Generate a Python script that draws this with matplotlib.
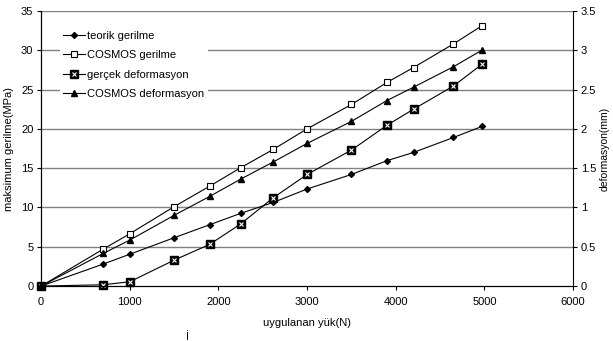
import matplotlib.pyplot as plt
from matplotlib.legend_handler import HandlerTuple

plt.rcParams['font.family'] = ['Liberation Sans', 'DejaVu Sans']
plt.rcParams['font.size'] = 8

# data
load = [0, 700, 1000, 1500, 1900, 2250, 2620, 3000, 3500, 3900, 4200, 4650, 4970]
teorik_gerilme = [0, 2.8, 4.05, 6.15, 7.8, 9.25, 10.65, 12.35, 14.2, 15.95, 17.0, 18.9, 20.3]
cosmos_gerilme = [0, 4.7, 6.65, 10.1, 12.7, 15.05, 17.4, 20.0, 23.1, 25.9, 27.8, 30.8, 33.1]
gercek_def = [0, 0.017, 0.055, 0.33, 0.53, 0.79, 1.125, 1.42, 1.73, 2.045, 2.25, 2.545, 2.82]
cosmos_def = [0, 0.415, 0.585, 0.9, 1.14, 1.36, 1.58, 1.815, 2.095, 2.36, 2.53, 2.79, 3.0]

fig = plt.figure(figsize=(6.13, 3.41), dpi=100)
ax = fig.add_axes([0.067, 0.161, 0.868, 0.807])
ax2 = ax.twinx()

ax.set_xlim(0, 6000)
ax.set_ylim(0, 35)
ax2.set_ylim(0, 3.5)
ax.set_xticks(range(0, 7000, 1000))
ax.set_yticks(range(0, 40, 5))
ax2.set_yticks([0, 0.5, 1, 1.5, 2, 2.5, 3, 3.5])
ax2.set_yticklabels(['0', '0.5', '1', '1.5', '2', '2.5', '3', '3.5'])

for y in range(5, 40, 5):
    ax.axhline(y, color='#808080', lw=1.0, zorder=0)

for a in (ax, ax2):
    a.spines['top'].set_visible(False)
    a.tick_params(length=3, width=0.8, direction='out', pad=2.5)
ax.tick_params(axis='x', pad=5)
ax.spines['right'].set_visible(False)

lw = 0.8
h1, = ax.plot(load, teorik_gerilme, color='black', lw=lw, marker='D', ms=3,
              mfc='black', mec='black', clip_on=False)
h2, = ax.plot(load, cosmos_gerilme, color='black', lw=lw, marker='s', ms=3.7,
              mfc='white', mec='black', mew=0.8, clip_on=False)
h3a, = ax2.plot(load, gercek_def, color='black', lw=lw, marker='s', ms=5.2,
                mfc='black', mec='black', clip_on=False)
h3b, = ax2.plot(load, gercek_def, ls='none', marker='x', ms=2.2,
                mec='white', mew=0.8, clip_on=False)
h4, = ax2.plot(load, cosmos_def, color='black', lw=lw, marker='^', ms=4.3,
               mfc='black', mec='black', clip_on=False)

leg = ax2.legend([h1, h2, (h3a, h3b), h4],
                 ['teorik gerilme', 'COSMOS gerilme', 'gerçek deformasyon', 'COSMOS deformasyon'],
                 handler_map={tuple: HandlerTuple(ndivide=1, pad=0)},
                 loc='upper left', bbox_to_anchor=(0.025, 0.96), frameon=True,
                 fancybox=False, edgecolor='none', facecolor='white', framealpha=1,
                 handlelength=2.0, handletextpad=0.15, labelspacing=0.85, borderpad=0.3)

ax.set_ylabel('maksimum gerilme(MPa)', labelpad=5)
ax2.set_ylabel('deformasyon(mm)', fontsize=7.5, rotation=90, va='center')
ax2.yaxis.set_label_coords(1.06, 0.5)
ax.set_xlabel('uygulanan yük(N)', labelpad=8)

fig.text(187 / 613, -0.004, 'İ', fontsize=7.5, va='bottom', ha='center')

fig.savefig('out.png', dpi=100)
